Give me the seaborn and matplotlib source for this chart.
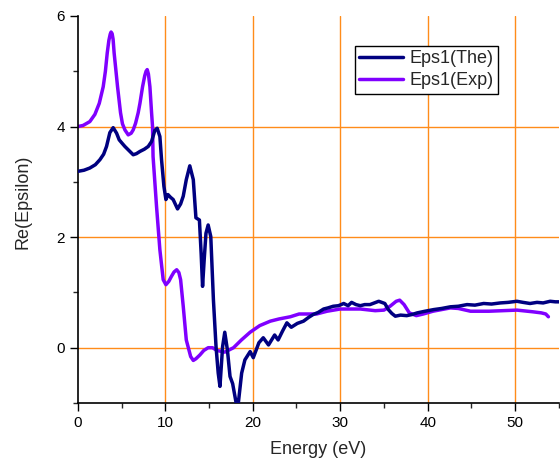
import matplotlib
matplotlib.use("Agg")
import matplotlib.pyplot as plt
import seaborn as sns
import pandas as pd
from matplotlib.ticker import MultipleLocator

# ---- data ----
energy_the = [0.0, 0.7, 1.37, 2.0, 2.52, 2.95, 3.28, 3.66, 4.04, 4.43, 4.73, 5.05, 5.38, 5.95,
              6.33, 6.7, 7.1, 7.6, 8.05, 8.43, 8.8, 9.07, 9.38, 9.57, 9.84, 10.07, 10.3,
              10.6, 10.9, 11.4, 11.75, 12.05, 12.4, 12.8, 13.2, 13.5, 13.9, 14.1, 14.26,
              14.45, 14.65, 14.9, 15.2, 15.5, 15.8, 16.05, 16.25, 16.55, 16.8, 17.1, 17.4,
              17.7, 18.1, 18.35, 18.73, 19.1, 19.7, 20.06, 20.7, 21.2, 21.8, 22.5, 22.9,
              23.4, 23.9, 24.4, 25.1, 25.8, 26.4, 26.9, 27.5, 28.1, 28.6, 29.2, 29.8, 30.4,
              30.9, 31.3, 31.8, 32.3, 32.8, 33.4, 33.9, 34.4, 35.1, 35.5, 35.9, 36.3, 36.9,
              37.6, 38.2, 38.8, 39.7, 40.7, 41.6, 42.6, 43.5, 44.5, 45.4, 46.4, 47.3, 48.3,
              49.2, 50.2, 50.9, 51.7, 52.5, 53.2, 54.0, 54.6, 55.0]
eps1_the = [3.19, 3.21, 3.25, 3.31, 3.40, 3.50, 3.64, 3.89, 3.98, 3.88, 3.76, 3.70, 3.64, 3.55,
            3.49, 3.51, 3.55, 3.59, 3.64, 3.73, 3.93, 3.97, 3.82, 3.40, 2.92, 2.68, 2.77,
            2.72, 2.68, 2.51, 2.60, 2.74, 3.04, 3.29, 3.04, 2.35, 2.31, 1.70, 1.11, 1.60,
            2.07, 2.22, 2.01, 0.87, 0.02, -0.46, -0.70, 0.02, 0.28, -0.04, -0.52, -0.65,
            -1.00, -1.00, -0.46, -0.22, -0.07, -0.18, 0.09, 0.18, 0.05, 0.23, 0.14, 0.30,
            0.45, 0.37, 0.44, 0.48, 0.55, 0.60, 0.64, 0.70, 0.72, 0.75, 0.76, 0.80, 0.76,
            0.82, 0.78, 0.76, 0.78, 0.78, 0.81, 0.84, 0.80, 0.69, 0.62, 0.57, 0.59, 0.58,
            0.60, 0.63, 0.66, 0.69, 0.71, 0.74, 0.75, 0.78, 0.77, 0.80, 0.79, 0.81, 0.82,
            0.84, 0.82, 0.80, 0.82, 0.81, 0.84, 0.83, 0.83]

energy_exp = [0.0, 0.6, 1.37, 1.95, 2.45, 2.9, 3.15, 3.36, 3.55, 3.7, 3.8, 3.92, 4.03, 4.15,
              4.33, 4.54, 4.88, 5.1, 5.38, 5.76, 6.1, 6.33, 6.6, 6.9, 7.1, 7.4, 7.65, 7.8,
              7.93, 8.07, 8.24, 8.43, 8.54, 8.6, 9.0, 9.38, 9.76, 10.07, 10.4, 10.7, 11.0,
              11.3, 11.55, 11.75, 12.05, 12.4, 12.9, 13.2, 13.5, 13.96, 14.4, 14.9, 15.4,
              15.9, 16.8, 17.8, 18.7, 19.7, 20.8, 22.0, 23.0, 24.3, 25.3, 27.3, 28.5, 30.0,
              32.3, 34.0, 35.0, 35.7, 36.4, 36.8, 37.3, 37.9, 38.7, 39.5, 40.6, 42.6, 43.5,
              44.9, 47.0, 50.2, 52.0, 53.0, 53.5, 53.8]
eps1_exp = [4.00, 4.02, 4.09, 4.22, 4.42, 4.72, 5.00, 5.33, 5.56, 5.67, 5.71, 5.68, 5.58, 5.33,
            5.05, 4.72, 4.25, 4.05, 3.94, 3.85, 3.88, 3.94, 4.06, 4.25, 4.42, 4.72, 4.92,
            5.00, 5.03, 4.95, 4.72, 4.25, 4.00, 3.46, 2.55, 1.77, 1.23, 1.14, 1.20, 1.29,
            1.37, 1.41, 1.36, 1.23, 0.75, 0.14, -0.16, -0.23, -0.20, -0.13, -0.05, 0.00,
            0.00, -0.05, -0.08, 0.00, 0.14, 0.28, 0.40, 0.48, 0.52, 0.56, 0.61, 0.61, 0.66,
            0.70, 0.70, 0.67, 0.68, 0.75, 0.84, 0.86, 0.78, 0.63, 0.58, 0.61, 0.66, 0.72,
            0.71, 0.66, 0.66, 0.68, 0.65, 0.63, 0.61, 0.56]

x_ticks = [0, 10, 20, 30, 40, 50]
y_ticks = [0, 2, 4, 6]

sns.set_style("ticks")
plt.rcParams["font.family"] = ["Liberation Sans", "DejaVu Sans"]

df_the = pd.DataFrame({"Energy": energy_the, "Eps": eps1_the})
df_exp = pd.DataFrame({"Energy": energy_exp, "Eps": eps1_exp})

fig = plt.figure(figsize=(5.6, 4.62), dpi=100)
ax = fig.add_axes([0.139, 0.1277, 0.859, 0.8377])

grid_color = "#FF8C1A"
for xv in x_ticks[1:]:
    ax.axvline(xv, color=grid_color, lw=1.0, zorder=0)
for yv in y_ticks[:-1]:
    ax.axhline(yv, color=grid_color, lw=1.0, zorder=0)

sns.lineplot(data=df_the, x="Energy", y="Eps", ax=ax, color="#000080", lw=2.5,
             label="Eps1(The)", sort=False, estimator=None, zorder=3)
sns.lineplot(data=df_exp, x="Energy", y="Eps", ax=ax, color="#8000FF", lw=2.5,
             label="Eps1(Exp)", sort=False, estimator=None, zorder=2)
for ln in ax.get_lines():
    ln.set_solid_joinstyle("round")
    ln.set_solid_capstyle("round")

ax.set_xlim(0, 55)
ax.set_ylim(-1, 6)
ax.set_xticks(x_ticks)
ax.set_yticks(y_ticks)
ax.xaxis.set_minor_locator(MultipleLocator(5))
ax.yaxis.set_minor_locator(MultipleLocator(1))
ax.tick_params(axis="both", which="major", direction="out", length=6, width=1,
               labelsize=11, colors="black")
ax.tick_params(axis="both", which="minor", direction="out", length=3.5, width=1)
for s in ["top", "right"]:
    ax.spines[s].set_visible(False)
for s in ["left", "bottom"]:
    ax.spines[s].set_color("black")
    ax.spines[s].set_linewidth(1.2)

ax.set_xlabel("Energy (eV)", fontsize=13, labelpad=8)
ax.set_ylabel("Re(Epsilon)", fontsize=13)
ax.yaxis.set_label_coords(-0.096, 0.52)

leg = ax.legend(loc="upper left", bbox_to_anchor=(0.576, 0.9225), fontsize=13,
                frameon=True, fancybox=False, framealpha=1, edgecolor="black",
                handlelength=2.4, handletextpad=0.35, borderpad=0.25, labelspacing=0.25,
                borderaxespad=0)
leg.get_frame().set_linewidth(1.0)

fig.savefig("out.png", dpi=100)
